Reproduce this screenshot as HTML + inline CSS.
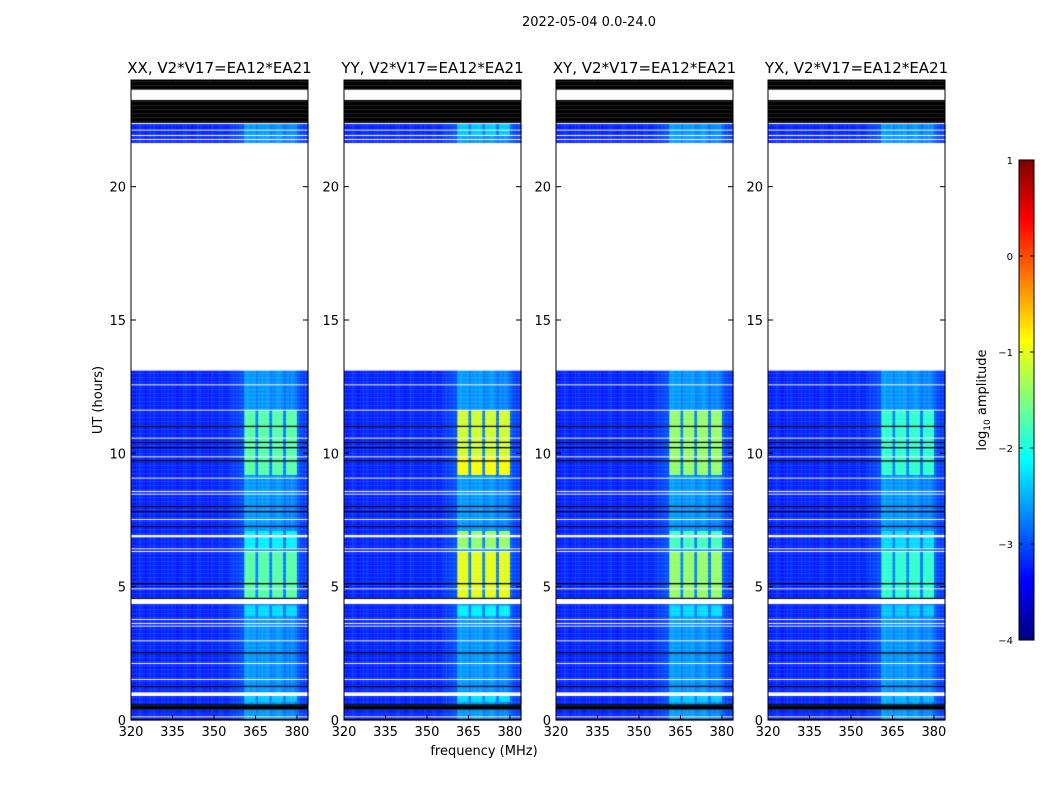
<!DOCTYPE html>
<html><head><meta charset="utf-8">
<style>
body{margin:0;background:#fff;}
#wrap{position:relative;width:1050px;height:800px;}
canvas,svg{position:absolute;left:0;top:0;}
text{font-family:"DejaVu Sans","Liberation Sans",sans-serif;fill:#000;}
</style></head>
<body>
<div id="wrap">
<canvas id="cv" width="1050" height="800"></canvas>
<svg id="sv" width="1050" height="800"></svg>
</div>
<script>
// ---- data ----
const panelTitles = ["XX, V2*V17=EA12*EA21","YY, V2*V17=EA12*EA21","XY, V2*V17=EA12*EA21","YX, V2*V17=EA12*EA21"];
const xTicks = [320,335,350,365,380];
const yTicks = [0,5,10,15,20];
const cbTicks = [1,0,-1,-2,-3,-4];
const dataSegments = [[0,4.35],[4.55,13.1],[21.6,22.4]];
const flagRows = [
 [0,0.05,"k"],[0.12,0.15,"w"],[0.4,0.62,"k"],[0.92,1.07,"w"],[1.25,1.3,"k"],[1.5,1.55,"w"],[2.1,2.15,"w"],
 [2.5,2.55,"k"],[2.95,3.0,"w"],[3.48,3.53,"w"],[3.6,3.65,"w"],[3.75,3.8,"w"],
 [4.35,4.55,"w"],[4.55,4.6,"k"],[4.9,4.95,"w"],[5.1,5.15,"k"],[6.3,6.35,"w"],[6.42,6.46,"w"],[6.85,6.95,"w"],
 [7.25,7.3,"k"],[7.5,7.55,"w"],[7.8,7.85,"k"],[8.0,8.05,"k"],[8.45,8.52,"w"],[8.55,8.6,"w"],[9.05,9.1,"w"],
 [9.7,9.75,"k"],[9.85,9.9,"w"],[10.2,10.25,"k"],[10.4,10.45,"k"],[10.55,10.6,"w"],[11.0,11.05,"k"],[11.6,11.65,"w"],
 [12.55,12.6,"w"],[21.6,21.65,"w"],[21.75,21.8,"w"],[21.9,21.95,"w"],[22.1,22.15,"w"],
 [22.4,23.25,"k"],[22.35,22.4,"w"],[22.28,22.31,"w"],[23.25,23.65,"w"],[23.65,24,"k"]
];
const channelProfile = [
 -3.2,-3.25,-3.2,-3.15,-3.2,-3.25,-3.2,-3.2,-3.15,-3.2,-3.25,-3.2,-3.2,-3.15,-3.2,-3.2,
 -3.25,-3.2,-3.2,-3.15,-3.2,-3.2,-3.25,-3.2,-3.15,-3.2,-3.2,-3.2,-3.25,-3.15,-3.2,-3.2,
 -3.15,-3.2,-3.2,-3.15,-3.1,-3.1,-3.05,-3.0,-3.0,-2.6,-2.6,-2.65,-2.6,-2.75,-2.65,-2.6,
 -2.65,-2.6,-2.75,-2.7,-2.65,-2.6,-2.7,-2.8,-2.7,-2.75,-2.7,-2.8,-2.9,-3.05,-3.1,-3.1
];
const blockChannels = [361,362,363,364,366,367,368,369,371,372,373,374,376,377,378,379];
const burstXX = [[0.7,0.9,-2.4],[3.9,4.3,-2.3],[4.6,6.3,-1.7],[6.45,7.1,-2.2],[9.2,11.6,-1.7],[21.9,22.4,-2.7]];
const burstYY = [[0.7,0.9,-2.3],[3.9,4.3,-2.2],[4.6,6.3,-1.0],[6.45,7.1,-1.4],[9.2,9.9,-0.9],[9.9,11.6,-1.1],[21.9,22.4,-2.4]];
const burstXY = [[0.7,0.9,-2.4],[3.9,4.3,-2.3],[4.6,6.3,-1.4],[6.45,7.1,-1.8],[9.2,11.6,-1.4],[21.9,22.4,-2.7]];
const burstYX = [[0.7,0.9,-2.5],[3.9,4.3,-2.4],[4.6,6.3,-1.9],[6.45,7.1,-2.3],[9.2,11.6,-1.9],[21.9,22.4,-2.7]];
const bursts = [burstXX,burstYY,burstXY,burstYX];

const panelLeft = [131,344,556,768];
const panelW = 177, top0 = 80, bot0 = 720;
function xScale(p,f){return panelLeft[p] + (f-320)/(384-320)*panelW;}
function yScale(h){return bot0 - h/24*(bot0-top0);}
function jet(v){
  let t=(v+4)/5; t=Math.max(0,Math.min(1,t));
  const r=Math.max(0,Math.min(1,1.5-Math.abs(4*t-3)));
  const g=Math.max(0,Math.min(1,1.5-Math.abs(4*t-2)));
  const b=Math.max(0,Math.min(1,1.5-Math.abs(4*t-1)));
  return `rgb(${Math.round(r*255)},${Math.round(g*255)},${Math.round(b*255)})`;
}
const cv=document.getElementById('cv'), ctx=cv.getContext('2d');
const dh=0.05;
for(let p=0;p<4;p++){
  for(let h=0;h<24-1e-9;h+=dh){
    const hc=h+dh/2;
    const inData=dataSegments.some(s=>hc>=s[0]&&hc<s[1]);
    let kind=inData?"d":"w";
    flagRows.forEach(f=>{if(hc>=f[0]&&hc<f[1])kind=f[2];});
    const y1=yScale(h+dh), y2=yScale(h);
    if(kind==="w")continue;
    if(kind==="k"){ctx.fillStyle="#000";ctx.fillRect(panelLeft[p],y1,panelW,y2-y1+0.3);continue;}
    let bl=null;
    bursts[p].forEach(b=>{if(hc>=b[0]&&hc<b[1])bl=b[2];});
    for(let c=0;c<channelProfile.length;c++){
      const f=320+c;
      let v=channelProfile[c];
      if(bl!==null && blockChannels.includes(f)) v=Math.max(v,bl);
      ctx.fillStyle=jet(v);
      ctx.fillRect(xScale(p,f),y1,xScale(p,f+1)-xScale(p,f)+0.3,y2-y1+0.3);
    }
  }
}
const cbX=1019,cbW=15,cbTop=160,cbBot=640;
function cbScale(v){return cbBot-(v+4)/5*(cbBot-cbTop);}
for(let i=0;i<240;i++){
  const v=-4+5*(i+0.5)/240;
  ctx.fillStyle=jet(v);
  ctx.fillRect(cbX,cbScale(v)-1.1,cbW,2.2);
}
const sv=document.getElementById('sv');
const NS="http://www.w3.org/2000/svg";
function el(tag,attrs,txt){const e=document.createElementNS(NS,tag);for(const k in attrs)e.setAttribute(k,attrs[k]);if(txt!==undefined)e.textContent=txt;sv.appendChild(e);return e;}
let t=el('text',{x:589,y:26,'font-size':13,'text-anchor':'middle'},"2022-05-04 0.0-24.0");


for(let p=0;p<4;p++){
  const L=panelLeft[p];
  let r=el('rect',{x:L,y:top0,width:panelW,height:bot0-top0,fill:'none',stroke:'#000','stroke-width':1});
  
  
  let tt=el('text',{x:L+panelW/2,y:73,'font-size':15,'text-anchor':'middle'},panelTitles[p]);
  
  
  xTicks.forEach(v=>{
    const x=xScale(p,v);
    el('line',{x1:x,y1:bot0,x2:x,y2:bot0-5,stroke:'#000'});
    el('line',{x1:x,y1:top0,x2:x,y2:top0+5,stroke:'#000'});
    let lb=el('text',{x:x,y:736,'font-size':13,'text-anchor':'middle'},String(v));
    
    
  });
  yTicks.forEach(v=>{
    const y=yScale(v);
    el('line',{x1:L,y1:y,x2:L+5,y2:y,stroke:'#000'});
    el('line',{x1:L+panelW,y1:y,x2:L+panelW-5,y2:y,stroke:'#000'});
    let lb=el('text',{x:L-5,y:y+5,'font-size':13,'text-anchor':'end'},String(v));
    
    
  });
}
t=el('text',{x:484,y:755,'font-size':13,'text-anchor':'middle'},"frequency (MHz)");


t=el('text',{x:102,y:400,'font-size':13,'text-anchor':'middle',transform:'rotate(-90 102 400)'},"UT (hours)");


let cb=el('rect',{x:cbX,y:cbTop,width:cbW,height:cbBot-cbTop,fill:'none',stroke:'#000'});


cbTicks.forEach(v=>{
  const y=cbScale(v);
  el('line',{x1:cbX,y1:y,x2:cbX+4,y2:y,stroke:'#000'});
  el('line',{x1:cbX+cbW,y1:y,x2:cbX+cbW-4,y2:y,stroke:'#000'});
  let lb=el('text',{x:1013,y:y+4,'font-size':10,'text-anchor':'end'},v<0?"\u2212"+(-v):String(v));
  
  
});
t=el('text',{x:986,y:400,'font-size':13,'text-anchor':'middle',transform:'rotate(-90 986 400)'});
t.innerHTML='log<tspan font-size="9" dy="4">10</tspan><tspan dy="-4"> amplitude</tspan>';


</script>
</body></html>
